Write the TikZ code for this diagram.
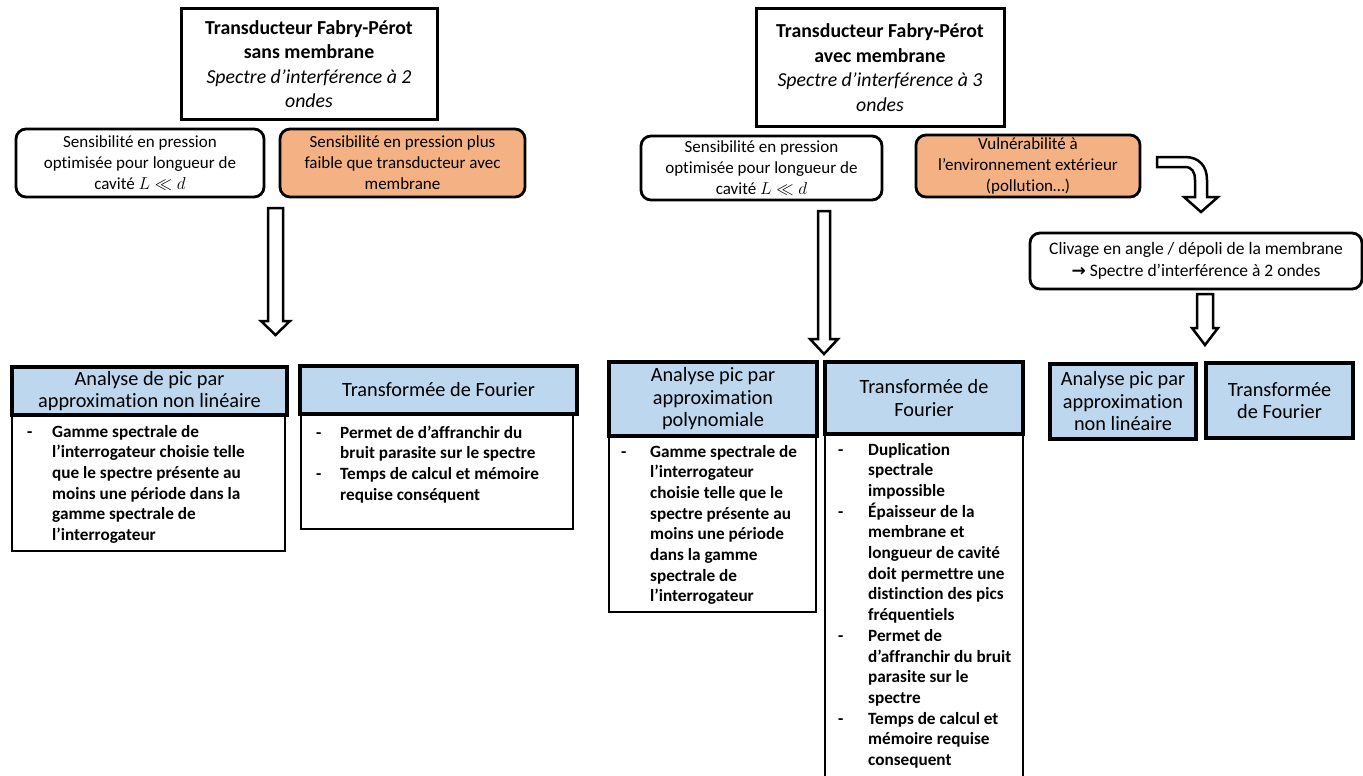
\documentclass[tikz,border=0pt]{standalone}
\usepackage{fontspec}
\setmainfont{Carlito}[Ligatures={NoCommon}]
\newfontfamily\symfont{DejaVu Sans}
\definecolor{orangeC}{HTML}{F4B183}
\definecolor{blueC}{HTML}{BDD7EE}
\newcommand{\blockarrow}[6]{% x, ytop, ybase, ytip, half shaft, half head
  \draw[barrow] (#1-#5,#2) -- (#1+#5,#2) -- (#1+#5,#3) -- (#1+#6,#3) -- (#1,#4)
    -- (#1-#6,#3) -- (#1-#5,#3) -- cycle;}
\begin{document}
\begin{tikzpicture}[x=1pt,y=-1pt,
  titlebox/.style={draw, line width=3pt, align=center, inner sep=0pt,
    font=\fontsize{19.8}{24.5}\selectfont},
  rbox/.style={draw, rounded corners=10pt, line width=2.8pt, align=center, inner sep=0pt,
    font=\fontsize{17}{21}\selectfont},
  obox/.style={rbox, fill=orangeC},
  hdr/.style={draw, line width=4pt, fill=blueC, align=center, inner sep=0pt,
    font=\fontsize{20.3}{22.5}\selectfont},
  body/.style={draw, line width=1.3pt, inner sep=0pt},
  btext/.style={anchor=base west, inner sep=0pt, font=\bfseries\fontsize{17.2}{20.7}\selectfont},
  barrow/.style={draw, line width=2.5pt, fill=white, line join=miter}
]
\useasboundingbox (0,0) rectangle (1363,776);

% ---------- left column ----------
\node[titlebox, minimum width=256pt, minimum height=110pt] (t1) at (309,64)
  {\textbf{Transducteur Fabry-Pérot}\\\textbf{sans membrane}\\\textit{Spectre d’interférence à 2}\\\textit{ondes}};
\node[rbox, minimum width=248pt, minimum height=68pt] (s1) at (140,163)
  {Sensibilité en pression\\optimisée pour longueur de\\cavité $L \ll d$};
\node[obox, minimum width=245pt, minimum height=68pt] (o1) at (402.5,163)
  {Sensibilité en pression plus\\faible que transducteur avec\\membrane};
\blockarrow{275.5}{208}{321}{335}{7.5}{14.5}

\node[body, minimum width=273pt, minimum height=137pt] (b1) at (148.5,482.5) {};
\node[hdr, minimum width=275pt, minimum height=48pt] (h1) at (149.5,391)
  {Analyse de pic par\\approximation non linéaire};
\node[btext] (bt1) at (27,437) {\begin{tabular}[t]{@{}p{25pt}@{}l@{}}
-&Gamme spectrale de\\
&l’interrogateur choisie telle\\
&que le spectre présente au\\
&moins une période dans la\\
&gamme spectrale de\\
&l’interrogateur\end{tabular}};

\node[body, minimum width=272pt, minimum height=115pt] (b2) at (437,471.5) {};
\node[hdr, minimum width=277pt, minimum height=48pt] (h2) at (438.5,390)
  {Transformée de Fourier};
\node[btext] (bt2) at (316,438) {\begin{tabular}[t]{@{}p{24pt}@{}l@{}}
-&Permet de d’affranchir du\\
&bruit parasite sur le spectre\\
-&Temps de calcul et mémoire\\
&requise conséquent\end{tabular}};

% ---------- middle column ----------
\node[titlebox, minimum width=248pt, minimum height=117pt] (t2) at (880,67.5)
  {\textbf{Transducteur Fabry-Pérot}\\\textbf{avec membrane}\\\textit{Spectre d’interférence à 3}\\\textit{ondes}};
\node[rbox, minimum width=241pt, minimum height=64pt] (s2) at (761.5,168)
  {Sensibilité en pression\\optimisée pour longueur de\\cavité $L \ll d$};
\node[obox, minimum width=224pt, minimum height=62pt] (o2) at (1028,166)
  {Vulnérabilité à\\l’environnement extérieur\\(pollution…)};
\blockarrow{824}{211}{339}{354}{6}{14}

\node[body, minimum width=207pt, minimum height=176pt] (b3) at (712.5,524) {};
\node[hdr, minimum width=208pt, minimum height=74pt] (h3) at (713,399)
  {Analyse pic par\\approximation\\polynomiale};
\node[btext] (bt3) at (621,457) {\begin{tabular}[t]{@{}p{29pt}@{}l@{}}
-&Gamme spectrale de\\
&l’interrogateur\\
&choisie telle que le\\
&spectre présente au\\
&moins une période\\
&dans la gamme\\
&spectrale de\\
&l’interrogateur\end{tabular}};

\node[body, minimum width=198pt, minimum height=350pt] (b4) at (924,609) {};
\node[hdr, minimum width=198pt, minimum height=72pt] (h4) at (924,398)
  {Transformée de\\Fourier};
\node[btext] (bt4) at (838,455) {\begin{tabular}[t]{@{}p{30pt}@{}l@{}}
-&Duplication\\
&spectrale\\
&impossible\\
-&Épaisseur de la\\
&membrane et\\
&longueur de cavité\\
&doit permettre une\\
&distinction des pics\\
&fréquentiels\\
-&Permet de\\
&d’affranchir du bruit\\
&parasite sur le\\
&spectre\\
-&Temps de calcul et\\
&mémoire requise\\
&consequent\end{tabular}};

% ---------- right column ----------
\draw[barrow] (1157,157) -- (1185,157) .. controls (1199,157) and (1207,166) .. (1207,180)
  -- (1207,197) -- (1218,197) -- (1201,212) -- (1184,197) -- (1195,197) -- (1195,180)
  .. controls (1195,172) and (1192,167) .. (1185,167) -- (1157,167) -- cycle;
\node[rbox, minimum width=332pt, minimum height=56pt, font=\fontsize{17.5}{22.5}\selectfont] (c1) at (1196,261)
  {Clivage en angle / dépoli de la membrane\\{\symfont\bfseries\fontsize{17}{22}\selectfont →} Spectre d’interférence à 2 ondes};
\blockarrow{1205}{294}{328}{345}{8}{13}

\node[hdr, minimum width=146pt, minimum height=75pt] (h5) at (1123,401.5)
  {Analyse pic par\\approximation\\non linéaire};
\node[hdr, minimum width=147pt, minimum height=75pt] (h6) at (1279.5,400.5)
  {Transformée\\de Fourier};
\end{tikzpicture}
\end{document}
